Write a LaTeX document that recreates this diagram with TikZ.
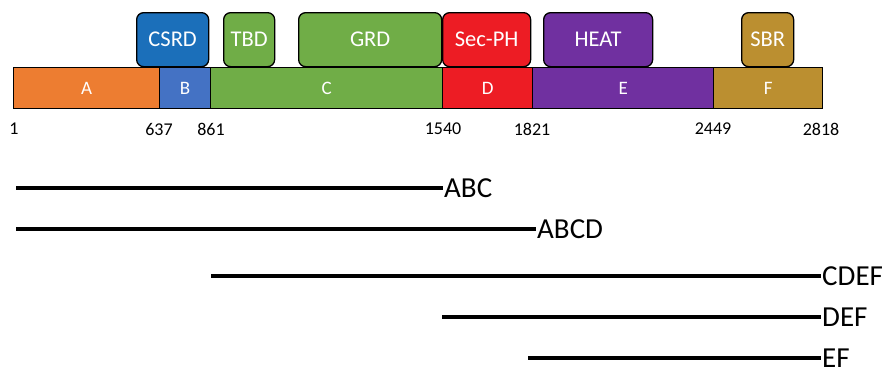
\documentclass[tikz,border=0pt]{standalone}
\usepackage{fontspec}
\setmainfont{Carlito}
\definecolor{cA}{HTML}{ED7D31}
\definecolor{cB}{HTML}{4472C4}
\definecolor{cC}{HTML}{70AD47}
\definecolor{cD}{HTML}{ED1C24}
\definecolor{cE}{HTML}{7030A0}
\definecolor{cF}{HTML}{BB8F30}
\definecolor{cCSRD}{HTML}{1B6FBA}
\begin{document}
\begin{tikzpicture}[x=1pt,y=-1pt,
  seg/.style={draw=black,line width=1.3pt,text=white,inner sep=0pt,anchor=north west,
    font=\fontsize{19}{19}\selectfont},
  dom/.style={draw=black,line width=1.3pt,text=white,inner sep=0pt,anchor=north west,
    rounded corners=7pt,font=\fontsize{22.5}{22.5}\selectfont},
  num/.style={inner sep=0pt,font=\fontsize{18}{18}\selectfont},
  frag/.style={line width=3.2pt},
  flab/.style={anchor=west,inner sep=1pt,font=\fontsize{29}{29}\selectfont}]
\useasboundingbox (0,0) rectangle (889,368);
% segments
\node[seg,fill=cA,minimum width=146pt,minimum height=41pt] (A) at (13,67) {A};
\node[seg,fill=cB,minimum width=51pt,minimum height=41pt] (B) at (159,67) {B};
\node[seg,fill=cC,minimum width=232pt,minimum height=41pt] (C) at (210,67) {C};
\node[seg,fill=cD,minimum width=90pt,minimum height=41pt] (D) at (442,67) {D};
\node[seg,fill=cE,minimum width=181pt,minimum height=41pt] (E) at (532,67) {E};
\node[seg,fill=cF,minimum width=109pt,minimum height=41pt] (F) at (713,67) {F};
% domains
\node[dom,fill=cCSRD,minimum width=72pt,minimum height=54pt] (CSRD) at (136,12) {CSRD};
\node[dom,fill=cC,minimum width=51pt,minimum height=54pt] (TBD) at (223,12) {TBD};
\node[dom,fill=cC,minimum width=143pt,minimum height=54pt] (GRD) at (298,12) {GRD};
\node[dom,fill=cD,minimum width=88pt,minimum height=54pt] (SecPH) at (442,12) {Sec-PH};
\node[dom,fill=cE,minimum width=109pt,minimum height=54pt] (HEAT) at (543,12) {HEAT};
\node[dom,fill=cF,minimum width=52pt,minimum height=54pt] (SBR) at (741,12) {SBR};
% positions
\node[num] (n1) at (14,129) {1};
\node[num] (n637) at (159,129) {637};
\node[num] (n861) at (211,129) {861};
\node[num] (n1540) at (443,129) {1540};
\node[num] (n1821) at (532,129) {1821};
\node[num] (n2449) at (713,129) {2449};
\node[num] (n2818) at (821,129) {2818};
% fragments
\node[flab] (ABC) at (443,188) {ABC};
\node[flab] (ABCD) at (536,229) {ABCD};
\node[flab] (CDEF) at (821,276) {CDEF};
\node[flab] (DEF) at (821,317) {DEF};
\node[flab] (EF) at (821,358) {EF};
\coordinate (sABC) at (16,188);
\coordinate (sABCD) at (16,229);
\coordinate (sCDEF) at (211,276);
\coordinate (sDEF) at (442,317);
\coordinate (sEF) at (528,358);
\draw[frag] (sABC) -- (ABC.west);
\draw[frag] (sABCD) -- (ABCD.west);
\draw[frag] (sCDEF) -- (CDEF.west);
\draw[frag] (sDEF) -- (DEF.west);
\draw[frag] (sEF) -- (EF.west);
\end{tikzpicture}
\end{document}
